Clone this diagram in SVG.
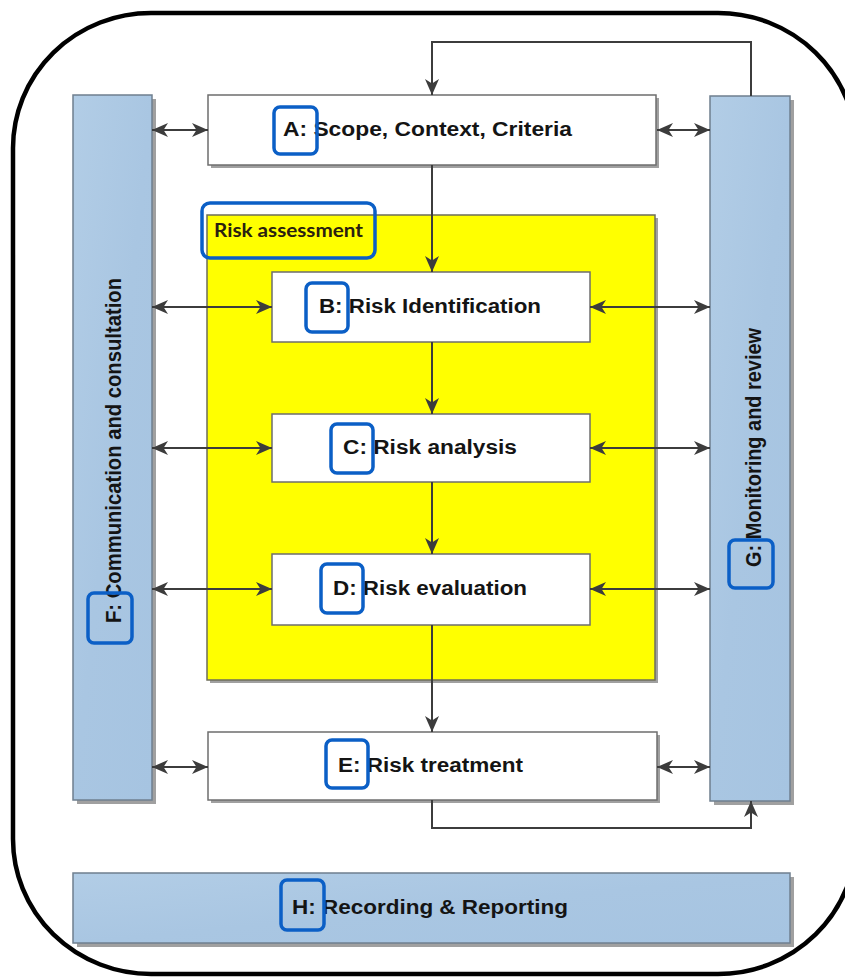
<svg xmlns="http://www.w3.org/2000/svg" width="845" height="978" viewBox="0 0 845 978">
<style>
.box{fill:#ffffff;stroke:#6e6e6e;stroke-width:1.5}
.bar{fill:url(#blue);stroke:#6f7f8f;stroke-width:1.5}
.shadow{fill:#a0a0a0}
.hl{fill:none;stroke:#0b5fc6;stroke-width:3.5}
.lbl{font-family:"Liberation Sans",Arial,sans-serif;font-weight:bold;font-size:20px;fill:#141414}
.ra{font-family:Lato,"Liberation Sans",sans-serif;font-weight:bold;font-size:18px;fill:#2a2010}
.c{fill:none;stroke:#3c3c3c;stroke-width:2}
.d{marker-start:url(#ah);marker-end:url(#ah)}
.e{marker-end:url(#ah)}
</style>
<defs>
<linearGradient id="blue" x1="0" y1="0" x2="1" y2="1">
<stop offset="0" stop-color="#b2cde6"/>
<stop offset="0.5" stop-color="#a9c6e2"/>
<stop offset="1" stop-color="#a6c4e1"/>
</linearGradient>
<marker id="ah" viewBox="0 0 16 16" refX="16" refY="8" markerWidth="16" markerHeight="16" markerUnits="userSpaceOnUse" orient="auto-start-reverse">
<path d="M0,1 L16,8 L0,15 L4.5,8 z" fill="#3c3c3c"/>
</marker>
</defs>
<rect width="845" height="978" fill="#ffffff"/>
<rect id="frame" x="13" y="13" width="843" height="961" rx="138" ry="135" fill="none" stroke="#000" stroke-width="4.5"/>

<g id="F">
<rect class="shadow" x="77" y="99" width="79" height="705"/>
<rect class="bar" x="73" y="95" width="79" height="705"/>
<text class="lbl" transform="translate(121,623) scale(1.1,1) rotate(-90)" x="0" y="0" textLength="345" lengthAdjust="spacingAndGlyphs">F: Communication and consultation</text>
<rect class="hl" x="88" y="593" width="44" height="50" rx="6"/>
</g>

<g id="G">
<rect class="shadow" x="714" y="100" width="80" height="705"/>
<rect class="bar" x="710" y="96" width="80" height="705"/>
<text class="lbl" transform="translate(761,567) scale(1.1,1) rotate(-90)" x="0" y="0" textLength="239" lengthAdjust="spacingAndGlyphs">G: Monitoring and review</text>
<rect class="hl" x="729" y="540" width="44" height="48" rx="6"/>
</g>

<g id="H">
<rect class="shadow" x="77" y="877" width="717" height="70"/>
<rect class="bar" x="73" y="873" width="717" height="70"/>
<text class="lbl" x="292" y="914" textLength="276" lengthAdjust="spacingAndGlyphs">H: Recording &amp; Reporting</text>
<rect class="hl" x="281" y="880" width="43" height="50" rx="6"/>
</g>

<g id="RiskAssessment">
<rect class="shadow" x="210" y="218" width="448" height="465"/>
<rect x="207" y="215" width="448" height="465" fill="#ffff00" stroke="#6e6e5a" stroke-width="1.5"/>
<text class="ra" x="214" y="237" textLength="149" lengthAdjust="spacingAndGlyphs">Risk assessment</text>
<rect class="hl" x="202" y="203" width="173" height="55" rx="8"/>
</g>

<g id="A">
<rect class="shadow" x="211" y="98" width="448" height="70"/>
<rect class="box" x="208" y="95" width="448" height="70"/>
<text class="lbl" x="283" y="136" textLength="289" lengthAdjust="spacingAndGlyphs">A: Scope, Context, Criteria</text>
<rect class="hl" x="274" y="107" width="43" height="47" rx="6"/>
</g>

<g id="B">
<rect class="box" x="272" y="272" width="318" height="70"/>
<text class="lbl" x="319" y="313" textLength="222" lengthAdjust="spacingAndGlyphs">B: Risk Identification</text>
<rect class="hl" x="306" y="283" width="42" height="49" rx="6"/>
</g>

<g id="C">
<rect class="box" x="272" y="414" width="318" height="68"/>
<text class="lbl" x="343" y="454" textLength="174" lengthAdjust="spacingAndGlyphs">C: Risk analysis</text>
<rect class="hl" x="331" y="424" width="42" height="49" rx="6"/>
</g>

<g id="D">
<rect class="box" x="272" y="554" width="318" height="71"/>
<text class="lbl" x="333" y="595" textLength="194" lengthAdjust="spacingAndGlyphs">D: Risk evaluation</text>
<rect class="hl" x="321" y="564" width="42" height="49" rx="6"/>
</g>

<g id="E">
<rect class="shadow" x="211" y="735" width="449" height="68"/>
<rect class="box" x="208" y="732" width="449" height="68"/>
<text class="lbl" x="338" y="772" textLength="185" lengthAdjust="spacingAndGlyphs">E: Risk treatment</text>
<rect class="hl" x="326" y="740" width="42" height="48" rx="6"/>
</g>

<g id="connectors">
<path class="c e" d="M751,96 V42 H432 V95"/>
<path class="c e" d="M432,165 V272"/>
<path class="c e" d="M432,342 V414"/>
<path class="c e" d="M432,482 V554"/>
<path class="c e" d="M432,625 V732"/>
<path class="c e" d="M432,800 V828 H751 V801"/>
<path class="c d" d="M152,130 H208"/>
<path class="c d" d="M657,130 H710"/>
<path class="c d" d="M152,307 H272"/>
<path class="c d" d="M590,307 H710"/>
<path class="c d" d="M152,448 H272"/>
<path class="c d" d="M590,448 H710"/>
<path class="c d" d="M152,589 H272"/>
<path class="c d" d="M590,589 H710"/>
<path class="c d" d="M152,767 H208"/>
<path class="c d" d="M657,767 H710"/>
</g>
</svg>
